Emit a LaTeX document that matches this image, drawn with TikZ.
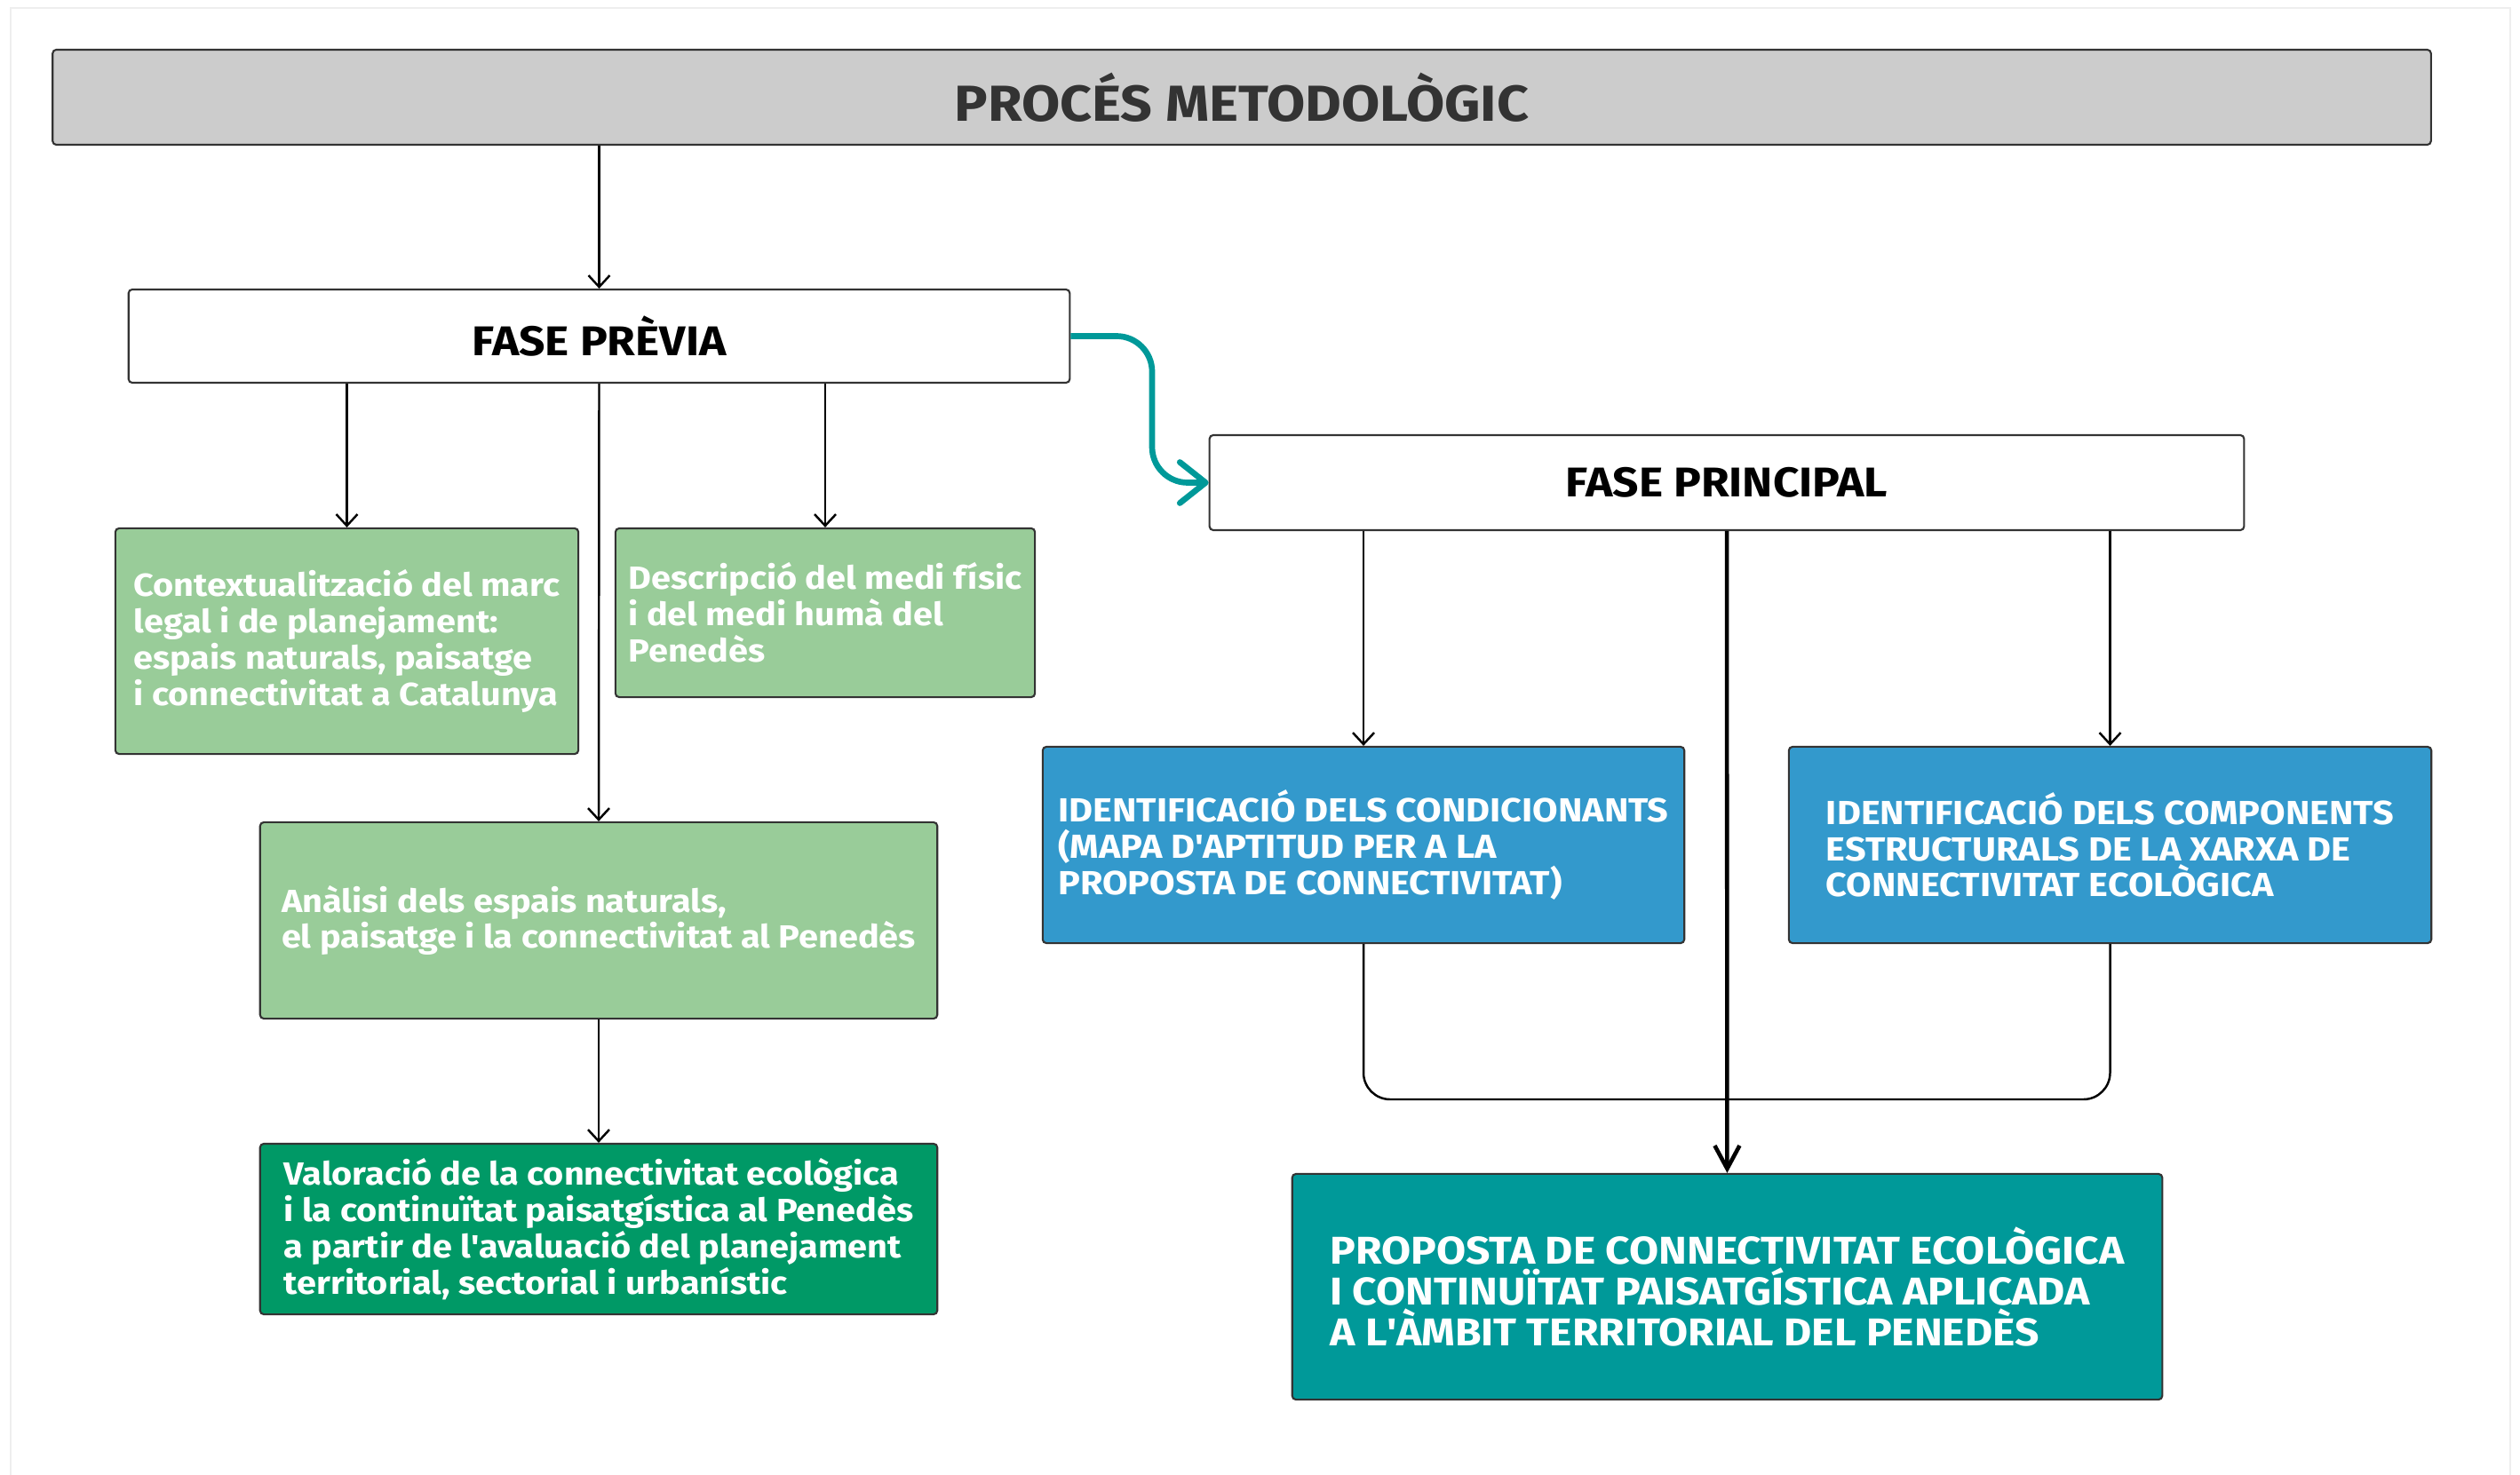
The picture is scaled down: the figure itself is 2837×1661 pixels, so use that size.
\documentclass[tikz,border=0pt]{standalone}
\usepackage{fontspec}
\setmainfont{Fira Sans}
\newfontfamily\widesans[FakeStretch=1.1]{Fira Sans}
\usetikzlibrary{arrows.meta,positioning}
\definecolor{titlegray}{HTML}{CCCCCC}
\definecolor{lightgreen}{HTML}{99CC99}
\definecolor{darkgreen}{HTML}{009966}
\definecolor{boxblue}{HTML}{3399CC}
\definecolor{tealbox}{HTML}{009999}
\definecolor{edgegray}{HTML}{333333}
\definecolor{framegray}{HTML}{EEEEEE}
\setlength{\lineskiplimit}{-20pt}
\newcommand{\apos}{\textquotesingle}
\tikzset{
  box/.style={draw=edgegray, line width=0.6pt, rounded corners=1.2pt, inner sep=0pt},
  phase/.style={box, fill=white, font=\widesans\bfseries\fontsize{13.3}{16}\selectfont},
  textbox/.style={box, text=white, align=left, font=\widesans\bfseries\fontsize{10.25}{11.6}\selectfont},
  capsbox/.style={textbox, font=\widesans\bfseries\fontsize{10.7}{11.6}\selectfont},
  link/.style={line width=0.7pt, -{Straight Barb[length=1.3mm,width=2.4mm]}},
  mainlink/.style={line width=1.3pt, -{Straight Barb[length=2.6mm,width=2.8mm]}},
  flow/.style={draw=tealbox, line width=1.9pt, rounded corners=0.4cm,
    -{Straight Barb[length=2.9mm,width=4.6mm,round]}},
}
\begin{document}
\begin{tikzpicture}[x=0.01cm, y=-0.01cm]
  \useasboundingbox (0,0) rectangle (2837,1661);
  \draw[framegray, line width=0.8pt] (12,1670) -- (12,9) -- (2826,9) -- (2826,1670);

  % cap
  \node[box, fill=titlegray, text=edgegray, minimum width=26.76cm, minimum height=1.07cm,
    font=\widesans\bfseries\fontsize{16.2}{20}\selectfont] (title) at (1398,109.5) {PROCÉS METODOLÒGIC};

  % fases
  \node[phase, minimum width=10.59cm, minimum height=1.05cm] (previa) at (674.5,378.5) {FASE PRÈVIA};
  \node[phase, minimum width=11.64cm, minimum height=1.07cm] (principal) at (1944,543.5) {FASE PRINCIPAL};

  % fase previa
  \node[textbox, fill=lightgreen, minimum width=5.21cm, minimum height=2.54cm] (legal) at (390.5,722)
    {Contextualització del marc\\legal i de planejament:\\espais naturals, paisatge\\i connectivitat a Catalunya};
  \node[textbox, fill=lightgreen, minimum width=4.72cm, minimum height=1.90cm] (medi) at (929,690)
    {Descripció del medi físic\\i del medi humà del\\Penedès};
  \node[textbox, fill=lightgreen, minimum width=7.62cm, minimum height=2.21cm] (analisi) at (674,1036.5)
    {Anàlisi dels espais naturals,\\el paisatge i la connectivitat al Penedès};
  \node[textbox, fill=darkgreen, minimum width=7.62cm, minimum height=1.92cm] (valoracio) at (674,1384)
    {Valoració de la connectivitat ecològica\\i la continuïtat paisatgística al Penedès\\a partir de l\apos avaluació del planejament\\territorial, sectorial i urbanístic};

  % fase principal
  \node[capsbox, fill=boxblue, minimum width=7.22cm, minimum height=2.21cm] (cond) at (1535,951.5)
    {IDENTIFICACIÓ DELS CONDICIONANTS\\(MAPA D\apos APTITUD PER A LA\\PROPOSTA DE CONNECTIVITAT)};
  \node[capsbox, fill=boxblue, minimum width=7.23cm, minimum height=2.21cm] (comp) at (2375.5,951.5)
    {IDENTIFICACIÓ DELS COMPONENTS\\ESTRUCTURALS DE LA XARXA DE\\CONNECTIVITAT ECOLÒGICA};
  \node[capsbox, fill=tealbox, minimum width=9.79cm, minimum height=2.54cm,
    font=\widesans\bfseries\fontsize{12.4}{13.2}\selectfont] (proposta) at (1944.5,1449)
    {PROPOSTA DE CONNECTIVITAT ECOLÒGICA\\I CONTINUÏTAT PAISATGÍSTICA APLICADA\\A L\apos ÀMBIT TERRITORIAL DEL PENEDÈS};

  \coordinate (bend) at (1297,460);
  \coordinate (join) at (1945,1238);

  \draw[link] (title.south -| previa.north) -- (previa.north);
  \draw[link] (previa.south -| legal.north) -- (legal.north);
  \draw[link] (previa.south) -- (analisi.north);
  \draw[link] (previa.south -| medi.north) -- (medi.north);
  \draw[link] (analisi) -- (valoracio);
  \draw[flow] (previa.east) -| (bend) |- (principal.west);
  \draw[link] (principal.south -| cond.north) -- (cond.north);
  \draw[link] (principal.south -| comp.north) -- (comp.north);
  \draw[line width=0.7pt, rounded corners=0.3cm] (cond.south) |- (join) -| (comp.south);
  \draw[mainlink] (principal) -- (proposta);
\end{tikzpicture}
\end{document}
